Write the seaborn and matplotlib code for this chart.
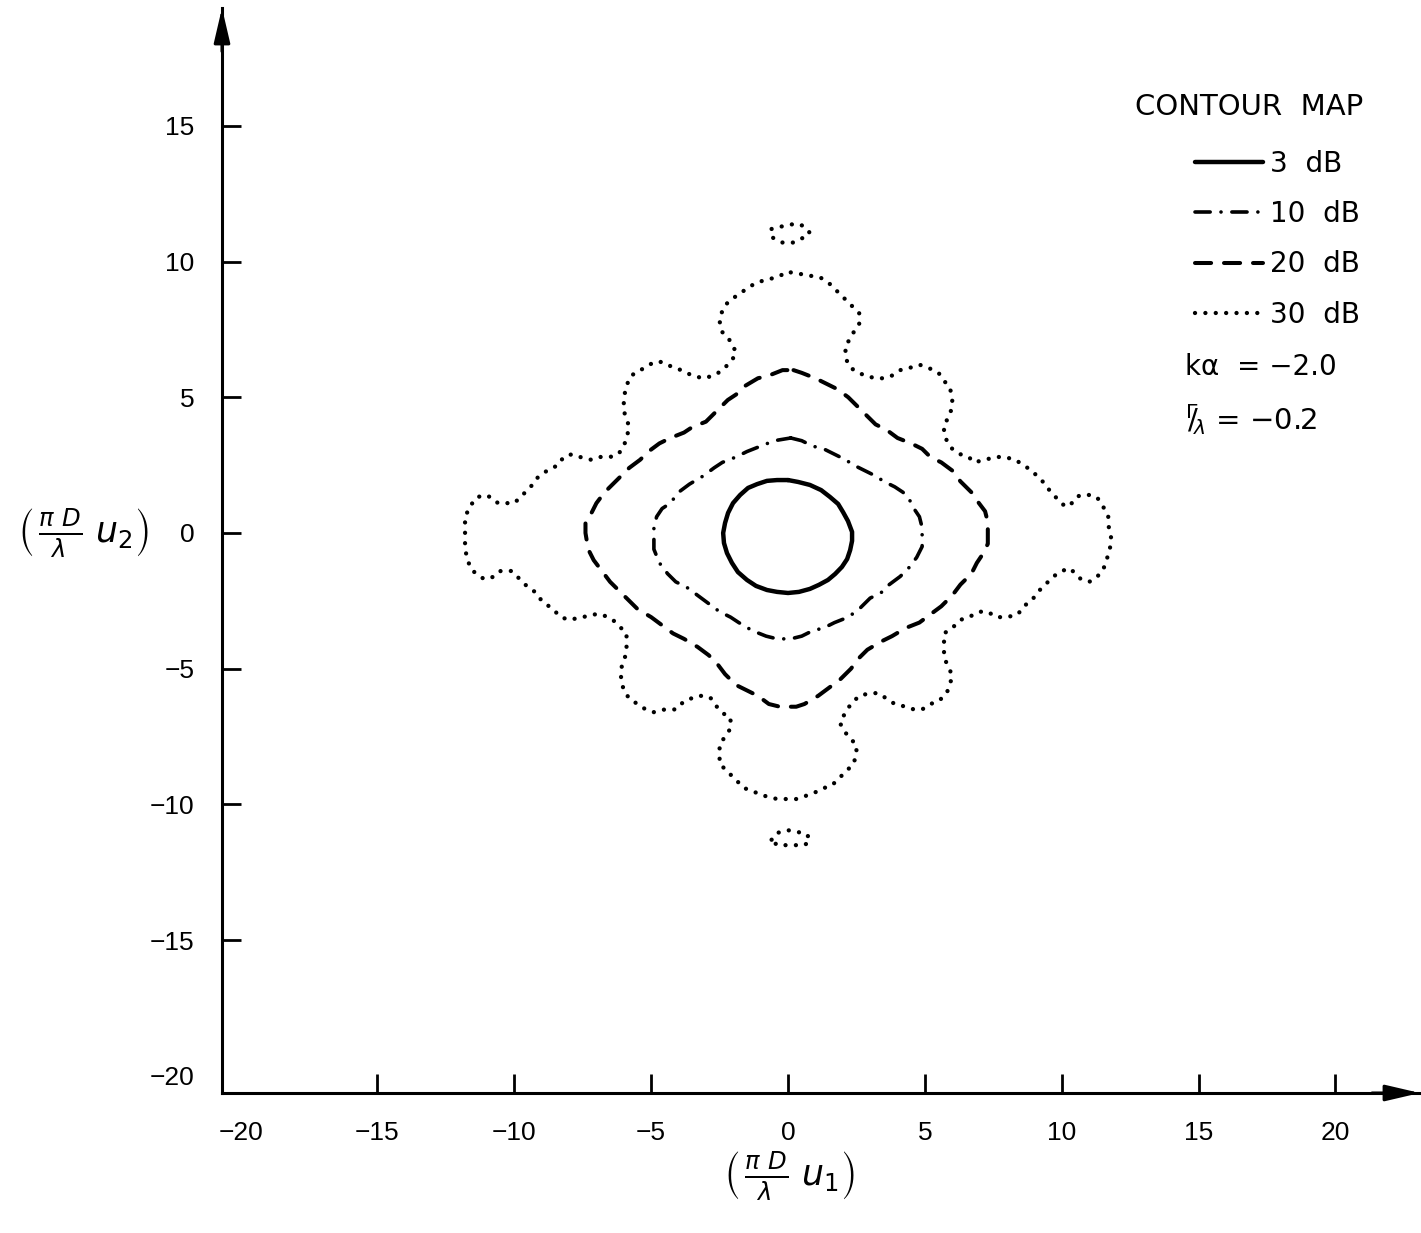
import matplotlib
matplotlib.use("Agg")
import matplotlib.pyplot as plt
import seaborn as sns

# 30 dB contour (main loop), traced quadrant by quadrant, clockwise from the top
c30_tr_x = [0.1, 0.7, 1.2, 1.5, 1.8, 2.1, 2.4, 2.6, 2.6, 2.4, 2.3, 2.1, 2.1, 2.2, 2.4, 2.8, 3.2, 3.5, 3.8, 4.1,
            4.5, 4.8, 5.1, 5.5, 5.7, 5.9, 6.0, 6.0, 5.9, 5.7, 5.7, 5.8, 6.0, 6.3, 6.6, 6.8, 7.2, 7.6, 7.9, 8.3,
            8.6, 8.9, 9.1, 9.4, 9.6, 9.8, 10.1, 10.3, 10.5, 10.7, 11.1, 11.3, 11.5, 11.7, 11.7, 11.8]
c30_tr_y = [9.6, 9.5, 9.4, 9.2, 8.9, 8.6, 8.3, 8.1, 7.7, 7.4, 7.2, 6.9, 6.5, 6.2, 6.0, 5.8, 5.7, 5.7, 5.8, 6.0,
            6.1, 6.2, 6.1, 5.9, 5.6, 5.4, 5.0, 4.7, 4.3, 4.0, 3.7, 3.4, 3.1, 2.9, 2.8, 2.6, 2.7, 2.8, 2.8, 2.7,
            2.5, 2.3, 2.1, 1.8, 1.5, 1.3, 1.0, 1.0, 1.3, 1.4, 1.4, 1.3, 1.0, 0.6, 0.3, -0.1]
c30_br_x = [11.8, 11.7, 11.6, 11.5, 11.2, 11.0, 10.7, 10.5, 10.3, 10.0, 9.7, 9.4, 9.1, 8.9, 8.6, 8.4, 8.0, 7.6,
            7.3, 7.0, 6.6, 6.3, 6.0, 5.7, 5.7, 5.7, 5.7, 5.9, 6.0, 5.9, 5.8, 5.5, 5.2, 4.9, 4.6, 4.3, 3.9, 3.6,
            3.3, 3.0, 2.6, 2.3, 2.1, 1.9, 2.0, 2.2, 2.5, 2.5, 2.4, 2.2, 1.9, 1.6, 1.3, 0.9, 0.6, 0.3]
c30_br_y = [-0.4, -0.8, -1.1, -1.4, -1.7, -1.8, -1.7, -1.5, -1.3, -1.4, -1.6, -1.9, -2.2, -2.5, -2.7, -3.0, -3.1,
            -3.1, -2.9, -2.9, -3.1, -3.2, -3.5, -3.7, -4.0, -4.3, -4.6, -5.0, -5.3, -5.6, -5.9, -6.2, -6.3, -6.5,
            -6.5, -6.4, -6.3, -6.1, -5.9, -5.9, -6.0, -6.3, -6.6, -7.0, -7.2, -7.5, -7.8, -8.1, -8.5, -8.7, -9.0,
            -9.3, -9.4, -9.6, -9.7, -9.8]
c30_bl_x = [-0.1, -0.4, -0.8, -1.1, -1.3, -1.6, -1.8, -2.0, -2.2, -2.5, -2.5, -2.5, -2.3, -2.1, -2.1, -2.3, -2.6,
            -2.8, -3.0, -3.3, -3.8, -4.1, -4.5, -4.9, -5.2, -5.5, -5.8, -6.0, -6.1, -6.1, -6.0, -5.9, -5.9, -5.9,
            -6.2, -6.4, -6.8, -7.1, -7.5, -8.0, -8.3, -8.6, -9.0, -9.2, -9.5, -9.8, -10.1, -10.5, -10.7, -11.1,
            -11.4, -11.6, -11.7, -11.8, -11.8]
c30_bl_y = [-9.8, -9.8, -9.7, -9.6, -9.5, -9.4, -9.2, -9.0, -8.8, -8.5, -8.1, -7.8, -7.5, -7.2, -6.8, -6.7, -6.4,
            -6.1, -6.0, -6.0, -6.2, -6.5, -6.5, -6.6, -6.5, -6.3, -6.1, -5.8, -5.4, -5.0, -4.7, -4.4, -4.0, -3.7,
            -3.4, -3.2, -3.0, -3.0, -3.1, -3.2, -3.1, -2.8, -2.5, -2.2, -2.0, -1.7, -1.4, -1.4, -1.6, -1.7, -1.5,
            -1.3, -1.0, -0.6, -0.1]
c30_tl_x = [-11.8, -11.8, -11.6, -11.4, -11.1, -10.8, -10.6, -10.3, -10.0, -9.7, -9.4, -9.2, -8.8, -8.4, -8.2,
            -7.9, -7.6, -7.2, -6.9, -6.5, -6.2, -6.0, -5.9, -5.8, -5.9, -6.0, -6.0, -5.9, -5.8, -5.6, -5.2, -4.9,
            -4.6, -4.2, -3.9, -3.5, -3.1, -2.7, -2.4, -2.1, -1.9, -2.0, -2.2, -2.4, -2.5, -2.4, -2.2, -1.8, -1.5,
            -1.2, -0.9, -0.5, 0.0, 0.1]
c30_tl_y = [0.2, 0.6, 1.0, 1.3, 1.4, 1.3, 1.1, 1.1, 1.1, 1.4, 1.7, 2.0, 2.3, 2.5, 2.8, 2.9, 2.8, 2.7, 2.8, 2.8,
            2.9, 3.2, 3.5, 3.9, 4.2, 4.5, 5.0, 5.4, 5.7, 5.9, 6.1, 6.3, 6.3, 6.1, 6.0, 5.8, 5.7, 5.8, 6.0, 6.3,
            6.6, 6.9, 7.2, 7.4, 7.8, 8.2, 8.5, 8.8, 9.0, 9.2, 9.3, 9.4, 9.6, 9.6]

# 30 dB islands above and below
isl_top_x = [-0.6, -0.2, 0.3, 0.6, 0.8, 0.6, 0.2, -0.2, -0.6, -0.6]
isl_top_y = [11.2, 11.3, 11.4, 11.3, 11.05, 10.9, 10.7, 10.7, 10.9, 11.2]
isl_bot_x = [-0.6, -0.4, 0.0, 0.3, 0.7, 0.8, 0.6, 0.1, -0.4, -0.6]
isl_bot_y = [-11.3, -11.05, -10.95, -11.0, -11.1, -11.35, -11.5, -11.5, -11.5, -11.3]

# 20 dB contour
c20_x = [0.2, 0.5, 1.0, 1.4, 1.8, 2.2, 2.6, 2.9, 3.2, 3.6, 4.0, 4.5, 4.9, 5.2, 5.6, 6.0, 6.3, 6.7, 6.9, 7.2,
         7.3, 7.3, 7.3, 7.1, 6.9, 6.7, 6.3, 6.0, 5.6, 5.2, 4.8, 4.3, 3.8, 3.4, 2.9, 2.6, 2.3, 1.9, 1.5, 1.1,
         0.6, 0.3, -0.3, -0.7, -1.1, -1.5, -1.9, -2.3, -2.6, -2.9, -3.3, -3.8, -4.2, -4.6, -5.0, -5.5, -5.9,
         -6.2, -6.5, -6.8, -7.1, -7.3, -7.4, -7.4, -7.2, -7.0, -6.7, -6.4, -6.1, -5.8, -5.4, -5.1, -4.7, -4.3,
         -3.8, -3.5, -3.0, -2.7, -2.2, -1.9, -1.6, -1.1, -0.7, -0.2, 0.2]
c20_y = [6.0, 5.9, 5.7, 5.5, 5.3, 5.0, 4.6, 4.3, 4.0, 3.8, 3.5, 3.3, 3.1, 2.8, 2.6, 2.3, 1.9, 1.5, 1.2, 0.8,
         0.4, 0.0, -0.4, -0.8, -1.1, -1.5, -1.9, -2.3, -2.7, -3.0, -3.3, -3.5, -3.8, -4.0, -4.3, -4.6, -5.0,
         -5.4, -5.7, -6.0, -6.3, -6.4, -6.4, -6.3, -6.0, -5.8, -5.6, -5.2, -4.8, -4.5, -4.2, -3.9, -3.7, -3.4,
         -3.1, -2.8, -2.4, -2.1, -1.8, -1.4, -1.0, -0.6, 0.0, 0.4, 0.7, 1.1, 1.5, 1.8, 2.1, 2.4, 2.7, 3.0, 3.3,
         3.5, 3.7, 3.9, 4.1, 4.4, 4.9, 5.1, 5.4, 5.7, 5.8, 6.0, 6.0]

# 10 dB contour
c10_x = [0.1, 0.5, 0.9, 1.3, 1.7, 2.1, 2.4, 2.8, 3.2, 3.5, 3.9, 4.2, 4.4, 4.6, 4.8, 4.9, 4.9, 4.9, 4.7, 4.4,
         4.1, 3.7, 3.4, 3.0, 2.6, 2.2, 1.7, 1.3, 0.9, 0.5, 0.1, -0.4, -0.8, -1.3, -1.8, -2.1, -2.5, -2.9, -3.3,
         -3.7, -4.1, -4.4, -4.7, -4.9, -4.9, -4.9, -4.8, -4.6, -4.3, -4.0, -3.6, -3.1, -2.7, -2.4, -1.9, -1.5,
         -1.0, -0.5, 0.1]
c10_y = [3.5, 3.4, 3.2, 3.1, 2.9, 2.7, 2.5, 2.3, 2.1, 1.9, 1.7, 1.5, 1.3, 0.9, 0.6, 0.2, -0.2, -0.5, -0.9, -1.3,
         -1.6, -1.9, -2.2, -2.4, -2.8, -3.1, -3.3, -3.5, -3.6, -3.8, -3.9, -3.9, -3.8, -3.6, -3.3, -3.1, -2.9,
         -2.6, -2.3, -2.0, -1.8, -1.5, -1.1, -0.6, -0.2, 0.2, 0.6, 0.9, 1.1, 1.5, 1.8, 2.1, 2.4, 2.6, 2.8, 3.0,
         3.2, 3.4, 3.5]

# 3 dB contour
c3_x = [0.0, 0.37, 0.80, 1.21, 1.53, 1.83, 2.01, 2.19, 2.34, 2.34, 2.27, 2.16, 1.97, 1.72, 1.46, 1.13, 0.80,
        0.40, 0.0, -0.40, -0.77, -1.17, -1.50, -1.83, -2.05, -2.23, -2.34, -2.37, -2.30, -2.19, -2.01, -1.75,
        -1.46, -1.13, -0.77, -0.40, 0.0]
c3_y = [1.95, 1.88, 1.77, 1.58, 1.33, 1.07, 0.77, 0.44, 0.04, -0.29, -0.63, -0.96, -1.25, -1.51, -1.73, -1.91,
        -2.06, -2.17, -2.21, -2.17, -2.10, -1.95, -1.73, -1.44, -1.10, -0.74, -0.37, 0.0, 0.37, 0.74, 1.10,
        1.40, 1.66, 1.80, 1.92, 1.95, 1.95]

x_ticks = [-20, -15, -10, -5, 0, 5, 10, 15, 20]
x_tick_labels = ["\u221220", "\u221215", "\u221210", "\u22125", "0", "5", "10", "15", "20"]
y_ticks = [-20, -15, -10, -5, 0, 5, 10, 15]
y_tick_labels = ["\u221220", "\u221215", "\u221210", "\u22125", "0", "5", "10", "15"]

levels = ["3  dB", "10  dB", "20  dB", "30  dB"]

sns.set_style("ticks", {"axes.edgecolor": "black", "text.color": "black",
                        "xtick.color": "black", "ytick.color": "black",
                        "axes.labelcolor": "black"})
plt.rcParams["font.family"] = ["Liberation Sans", "DejaVu Sans"]

fig = plt.figure(figsize=(14.21, 12.33), dpi=100)
ax = fig.add_axes([222 / 1421, 140 / 1233, 1198 / 1421, 1085 / 1233])

solid = dict(linestyle="-", linewidth=3.2)
dashdot = dict(linestyle=(0, (4.2, 3.0, 0.01, 3.0)), linewidth=2.6, dash_capstyle="round")
dashed = dict(linestyle=(0, (4.0, 3.2)), linewidth=2.9, dash_capstyle="round")
dotted = dict(linestyle=(0, (0.01, 2.4)), linewidth=3.1, dash_capstyle="round")


def draw(xs, ys, style, label=None):
    sns.lineplot(x=xs, y=ys, sort=False, estimator=None, ax=ax, color="black",
                 label=label, **style)


draw(c3_x, c3_y, solid, levels[0])
draw(c10_x, c10_y, dashdot, levels[1])
draw(c20_x, c20_y, dashed, levels[2])
draw(c30_tr_x + c30_br_x + c30_bl_x + c30_tl_x,
     c30_tr_y + c30_br_y + c30_bl_y + c30_tl_y, dotted, levels[3])
draw(isl_top_x, isl_top_y, dotted)
draw(isl_bot_x, isl_bot_y, dotted)

ax.set_xlim(-20.68, 23.09)
ax.set_ylim(-20.63, 19.34)
ax.set_xticks(x_ticks)
ax.set_xticklabels(x_tick_labels)
ax.set_yticks(y_ticks)
ax.set_yticklabels(y_tick_labels)
ax.tick_params(direction="in", length=14, width=2, labelsize=19, pad=20,
               bottom=True, left=True)
# the corner has labels only, no tick marks
ax.xaxis.get_major_ticks()[0].tick1line.set_visible(False)
ax.yaxis.get_major_ticks()[0].tick1line.set_visible(False)

sns.despine(ax=ax)
ax.spines["left"].set_linewidth(2.2)
ax.spines["bottom"].set_linewidth(2.2)

arrow = dict(arrowstyle="-|>,head_length=1.5,head_width=0.35", color="black",
             lw=2.2, mutation_scale=14, shrinkA=0, shrinkB=0)
ax.annotate("", xy=(1, 0), xycoords="axes fraction", xytext=(0.96, 0),
            arrowprops=arrow, annotation_clip=False)
ax.annotate("", xy=(0, 1), xycoords="axes fraction", xytext=(0, 0.96),
            arrowprops=arrow, annotation_clip=False)

ax.set_xlabel(r"$\left(\,\frac{\pi\ D}{\lambda}\ u_1\right)$", fontsize=25)
ax.xaxis.set_label_coords(0.474, -0.052)
ax.set_ylabel(r"$\left(\,\frac{\pi\ D}{\lambda}\ u_2\right)$", fontsize=25,
              rotation=0, ha="center", va="center")
ax.yaxis.set_label_coords(-0.116, 0.517)

side_font = ["DejaVu Sans"]
ax.legend(loc="upper left", bbox_to_anchor=(1195 / 1421, 1 - 150 / 1233),
          bbox_transform=fig.transFigure, frameon=False, borderpad=0,
          borderaxespad=0, handlelength=2.45, handletextpad=0.25,
          labelspacing=0.8, prop={"family": side_font, "size": 20})

fig.text(1135 / 1421, 1 - 107 / 1233, "CONTOUR  MAP", fontsize=21,
         family=side_font, ha="left", va="center")
fig.text(1185 / 1421, 1 - 367 / 1233, "k\u03b1  = \u22122.0", fontsize=20,
         family=side_font, ha="left", va="center")
fig.text(1185 / 1421, 1 - 420 / 1233,
         r"$^{\Gamma}\!\!/\!_{\lambda}$" + " = \u22120.2", fontsize=21,
         family=side_font, ha="left", va="center")

fig.savefig("out.png", dpi=100)
